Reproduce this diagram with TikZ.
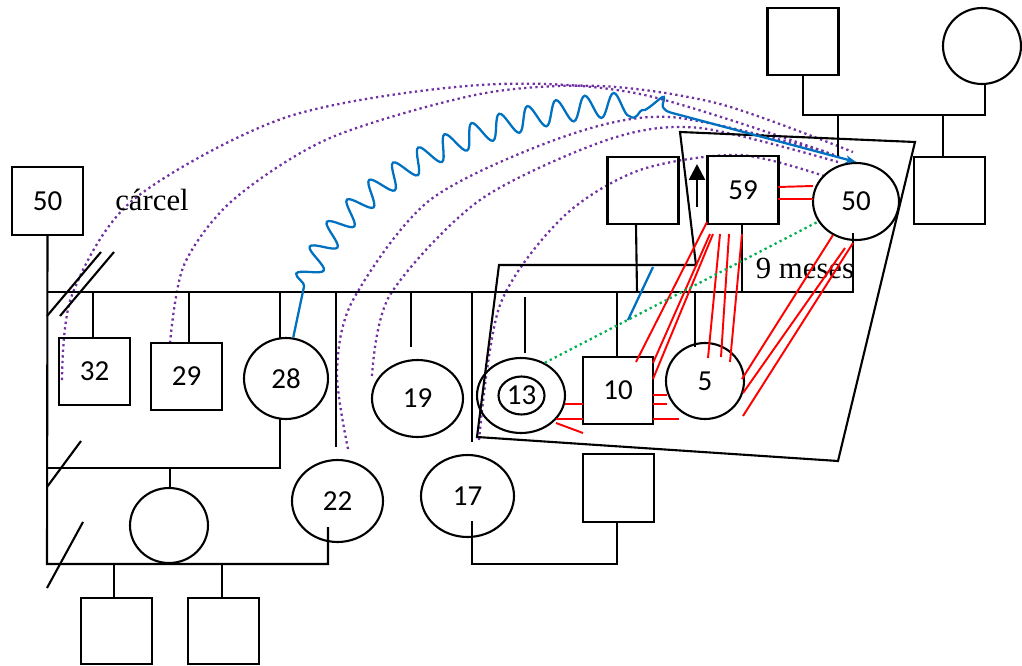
\documentclass[tikz,border=0pt]{standalone}
\usepackage{fontspec}
\setmainfont{Liberation Serif}
\newfontfamily\numfont{Carlito}
\usetikzlibrary{shapes.geometric,arrows.meta,decorations.pathmorphing}
\definecolor{bl}{RGB}{0,112,192}
\definecolor{pu}{RGB}{112,48,160}
\definecolor{gr}{RGB}{0,176,80}
\definecolor{rd}{RGB}{255,0,0}
\begin{document}
\begin{tikzpicture}[x=0.02cm,y=-0.02cm, line width=1.2pt,
  sq/.style={draw, rectangle, inner sep=0pt, minimum width=1.42cm, minimum height=1.35cm, font=\numfont\fontsize{16.5}{19}\selectfont},
  el/.style={draw, ellipse, inner sep=0pt, font=\numfont\fontsize{16.5}{19}\selectfont},
  rel/.style={draw=rd, line width=1.1pt},
  pdot/.style={draw=pu, line width=1.3pt, dash pattern=on 1.3pt off 1.9pt},
  gdot/.style={draw=gr, line width=1.3pt, dash pattern=on 1.3pt off 1.9pt},
  lab/.style={font=\fontsize{17.5}{20}\selectfont, inner sep=0pt},
  blu/.style={draw=bl, line width=1.3pt}]
\useasboundingbox (0,0) rectangle (1022,666);

% dotted purple arcs
\draw[pdot] plot[smooth] coordinates {(62,380) (72,295) (133,200) (287,117) (480,85) (640,94) (840,157)};
\draw[pdot] plot[smooth] coordinates {(170,343) (184,265) (233,200) (330,138) (480,94) (600,86) (720,104) (853,152)};
\draw[pdot] plot[smooth] coordinates {(348,449) (337,372) (353,300) (430,200) (563,137) (670,117) (827,152)};
\draw[pdot] plot[smooth] coordinates {(372,376) (390,295) (480,200) (610,139) (700,128) (838,162)};
\draw[pdot] plot[smooth] coordinates {(479,440) (500,305) (563,217) (640,170) (740,155) (827,177)};

% nodes
\node[sq] (sTop) at (803,41.5) {};
\node[el, minimum width=1.56cm, minimum height=1.52cm] (cTop) at (982,46) {};
\node[sq] (sL) at (643,190.5) {};
\node[sq] (s59) at (743,190) {59};
\node[el, minimum width=1.72cm, minimum height=1.54cm] (c50) at (856,201.5) {50};
\node[sq] (sR) at (949.5,190.5) {};
\node[sq] (s50) at (47.5,201) {50};
\node[sq] (s32) at (94.5,371.5) {32};
\node[sq] (s29) at (186.5,376.5) {29};
\node[el, minimum width=1.68cm, minimum height=1.62cm] (c28) at (286,378.5) {28};
\node[el, minimum width=1.82cm, minimum height=1.54cm] (c19) at (417.5,398.5) {19};
\node[el, minimum width=1.76cm, minimum height=1.5cm] (c13o) at (521,395.5) {};
\node[el, minimum width=0.92cm, minimum height=0.76cm] (c13i) at (521.5,395.5) {13};
\node[sq, minimum width=1.4cm] (s10) at (618,390.5) {10};
\node[el, minimum width=1.56cm, minimum height=1.52cm] (c5) at (705,381) {5};
\node[el, minimum width=1.82cm, minimum height=1.64cm] (c22) at (337.5,501) {22};
\node[el, minimum width=1.86cm, minimum height=1.64cm] (c17) at (467.5,496) {17};
\node[sq] (sB) at (618.5,488) {};
\node[el, minimum width=1.56cm, minimum height=1.5cm] (cB) at (169,525.5) {};
\node[sq, minimum height=1.32cm] (sB1) at (116.5,631) {};
\node[sq, minimum height=1.32cm] (sB2) at (223.5,631) {};
\node[lab] (carcel) at (152,200) {cárcel};
\node[lab] (meses) at (805,268) {9 meses};

% coordinates
\coordinate (jA) at (803,115);
\coordinate (jB) at (985,115);
\coordinate (jC) at (838,115);
\coordinate (jD) at (943,115);
\coordinate (mL) at (47,292);
\coordinate (mR) at (853,292);
\coordinate (bL) at (47,564);
\coordinate (d32) at (93,292);
\coordinate (d29) at (189,292);
\coordinate (d10) at (617,292);
\coordinate (d59) at (742,292);
\coordinate (dB1) at (114,564);
\coordinate (dB2) at (222,564);
\coordinate (dcB) at (170,468);

% black genealogical lines
\draw (sTop.south) -- (jA) -- (jB) -- (jB |- cTop.south);
\draw (jC) -- (838,157);
\draw (jD) -- (sR.north -| jD);
\draw (mL) -- (mR) -- (853,233);
\draw (s50.south) -- (bL) -- (328,564) -- (328,527);
\draw (47,468) -- (280,468) -- (280,419);
\draw (dcB) -- (dcB |- cB.north);
\draw (dB1) -- (dB1 |- sB1.north);
\draw (dB2) -- (dB2 |- sB2.north);
\draw (d32) -- (d32 |- s32.north);
\draw (d29) -- (d29 |- s29.north);
\draw (280,339) -- (280,292);
\draw (336,447) -- (336,292);
\draw (411,347) -- (411,292);
\draw (472,442) -- (472,292);
\draw (525,297) -- (525,353);
\draw (d10) -- (d10 |- s10.north);
\draw (695,347) -- (695,292);
\draw (636,224) -- (637,292);
\draw (d59) -- (d59 |- s59.south);
\draw (472,521) -- (472,564) -- (617,564) -- (617,522);

% separation slashes
\draw (101,252) -- (47,316);
\draw (114,252) -- (60,316);
\draw (81,441) -- (47,487);
\draw (83,522) -- (47,588);

% household boundary
\draw (680,132) -- (915,142) -- (838,461) -- (477,437) -- (499,265) -- (696,265) -- cycle;

% up arrow
\draw[-{Triangle[length=9pt,width=9pt]}, line width=1.5pt] (697,207) -- (697,164);

% red lines
\draw[rel] (778,187) -- (813,186);
\draw[rel] (778,199) -- (813,199);
\draw[rel] (565,404) -- (583,404);
\draw[rel] (556,419) -- (583,419);
\draw[rel] (556,423) -- (583,433);
\draw[rel] (653,395) -- (667,395);
\draw[rel] (653,404) -- (667,404);
\draw[rel] (653,419) -- (679,419);
\draw[rel] (707,222) -- (636,362);
\draw[rel] (710,234) -- (653,363);
\draw[rel] (713,234) -- (653,379);
\draw[rel] (720,234) -- (708,358);
\draw[rel] (729,234) -- (721,357);
\draw[rel] (742,234) -- (730,362);
\draw[rel] (833,235) -- (742,379);
\draw[rel] (845,248) -- (743,393);
\draw[rel] (853,243) -- (743,416);

% green dotted
\draw[gdot] (c13o.54) -- (c50.208);

% blue lines
\draw[blu] (653,267) -- (628,320);
\draw[blu, -{Stealth[length=6pt,width=4.5pt]}] (c28.80)
  decorate[decoration={snake, amplitude=6.8pt, segment length=16.2pt, pre length=30pt, post length=0pt}] { .. controls (298,215) and (450,112) .. (645,110) }
  .. controls (656,104) and (668,88) .. (663,103)
  .. controls (661,110) and (668,112) .. (676,114) -- (c50.north);
\end{tikzpicture}
\end{document}
